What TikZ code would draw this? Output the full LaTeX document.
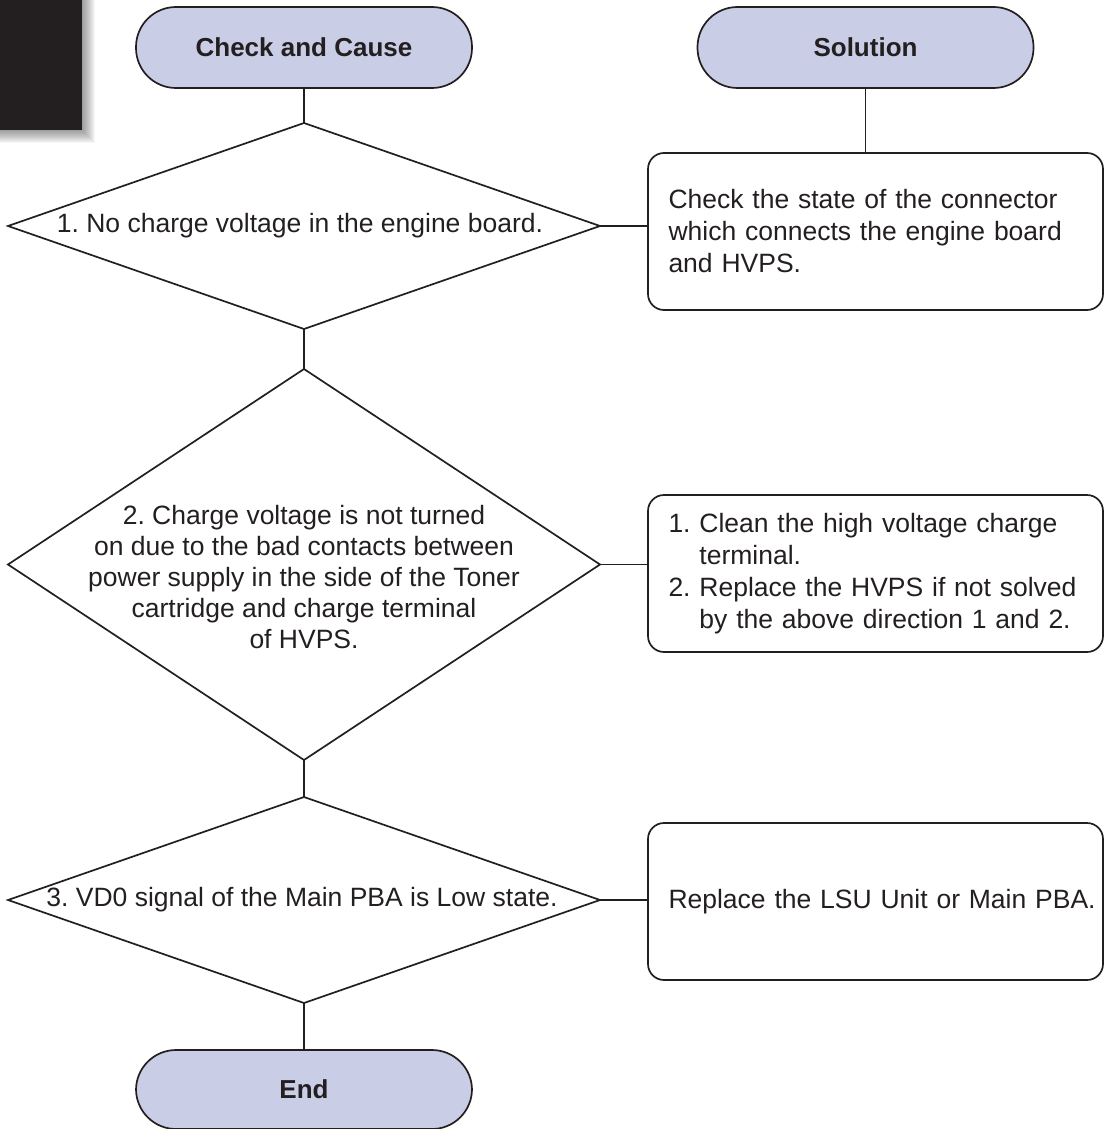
\documentclass[tikz,border=0pt]{standalone}
\usepackage{fontspec}
\setmainfont{Liberation Sans}
\usetikzlibrary{shapes.geometric}
\definecolor{ink}{RGB}{35,31,32}
\definecolor{termfill}{RGB}{201,205,230}
\frenchspacing
\tikzset{
  lw/.style={line width=1.7pt, draw=ink},
  terminal/.style={lw, fill=termfill, rounded corners=40pt, minimum width=336pt,
    minimum height=81pt, inner sep=0pt, font=\fontsize{26pt}{31pt}\selectfont\bfseries, text=ink},
  decision/.style={lw, diamond, inner sep=0pt, outer sep=0pt, minimum width=592pt},
  dtext/.style={align=center, inner sep=0pt, text=ink, font=\fontsize{26.5pt}{31pt}\selectfont\frenchspacing},
  solbox/.style={lw, rounded corners=16pt, minimum width=455pt, text width=414pt, align=left,
    inner xsep=0pt, inner ysep=0pt, text=ink, font=\fontsize{26.5pt}{32pt}\selectfont\frenchspacing},
  conn/.style={lw}
}
\begin{document}
\begin{tikzpicture}[x=1pt,y=-1pt]
\useasboundingbox (0,0) rectangle (1104,1129);
% tab with shadow
\foreach \i in {1,...,13} {
  \fill[black, opacity=0.035] (0,0) rectangle (82+\i,130+\i);
}
\fill[ink] (0,0) rectangle (82,130);

% terminals
\node[terminal] (cc) at (304,47.5) {Check and Cause};
\node[terminal] (sol) at (865.5,47.5) {Solution};
\node[terminal, minimum height=79pt] (end) at (304,1089.5) {End};

% decisions
\node[decision, minimum height=206pt] (d1) at (304,226) {};
\node[dtext] (t1) at (300,226) {1. No charge voltage in the engine board.};
\node[decision, minimum height=391pt] (d2) at (304,564.5) {};
\node[dtext] (t2) at (304,577) {2. Charge voltage is not turned\\on due to the bad contacts between\\power supply in the side of the Toner\\cartridge and charge terminal\\of HVPS.};
\node[decision, minimum height=206pt] (d3) at (304,900) {};
\node[dtext] (t3) at (302,900) {3. VD0 signal of the Main PBA is Low state.};

% solution boxes
\node[solbox, minimum height=157pt] (b1) at (875.5,231.5) {Check the state of the connector\\which connects the engine board\\and HVPS.};
\node[solbox, minimum height=157pt] (b2) at (875.5,573.5) {1. Clean the high voltage charge\\\hphantom{1.\ }terminal.\\2. Replace the HVPS if not solved\\\hphantom{2.\ }by the above direction 1 and 2.};
\node[solbox, minimum height=157pt] (b3) at (875.5,901.5) {\mbox{Replace the LSU Unit or Main PBA.}};

% connectors
\draw[conn] (cc.south) -- (d1.north);
\draw[conn] (d1.south) -- (d2.north);
\draw[conn] (d2.south) -- (d3.north);
\draw[conn] (d3.south) -- (end.north);
\draw[conn] (sol.south) -- (sol.south |- b1.north);
\draw[conn] (d1.east) -- (d1.east -| b1.west);
\draw[conn] (d2.east) -- (d2.east -| b2.west);
\draw[conn] (d3.east) -- (d3.east -| b3.west);
\end{tikzpicture}
\end{document}
